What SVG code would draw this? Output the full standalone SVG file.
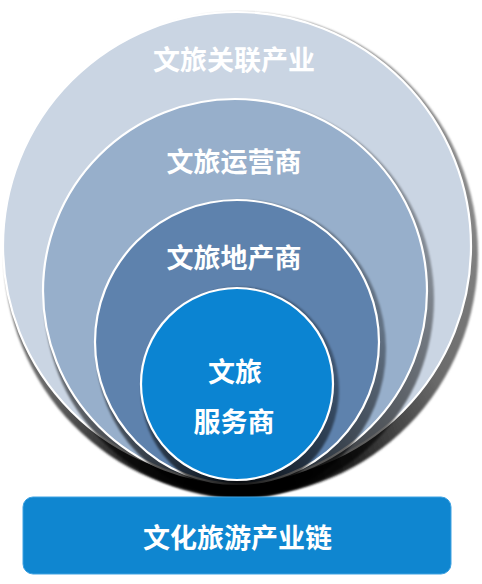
<svg xmlns="http://www.w3.org/2000/svg" width="482" height="584" viewBox="0 0 482 584">
<defs>
<style>
.lbl{font-family:"Noto Sans CJK SC","Noto Sans",sans-serif;font-weight:bold;font-size:27px;fill:#fff;text-anchor:middle;dominant-baseline:central}
.ring{stroke:#fff;stroke-width:2.2}
</style>
<radialGradient id="sh" cx="0.5" cy="1" r="0.75">
<stop offset="0" stop-color="#000" stop-opacity="0.95"/>
<stop offset="0.35" stop-color="#000" stop-opacity="0.7"/>
<stop offset="1" stop-color="#000" stop-opacity="0.35"/>
</radialGradient>
<radialGradient id="sh0" cx="0.5" cy="1" r="0.8">
<stop offset="0" stop-color="#000"/>
<stop offset="0.3" stop-color="#222"/>
<stop offset="0.6" stop-color="#6a6a6a"/>
<stop offset="1" stop-color="#8a8a8a"/>
</radialGradient>
<filter id="bl" x="-10%" y="-10%" width="120%" height="120%"><feGaussianBlur stdDeviation="1.2"/></filter>
</defs>
<g id="outer">
<ellipse cx="241" cy="254" rx="237" ry="242" fill="url(#sh0)" filter="url(#bl)"/>
<circle class="ring" cx="237" cy="246" r="234" fill="#CAD5E3"/>
<text class="lbl" x="234" y="58.5">文旅关联产业</text>
</g>
<g id="operator">
<ellipse cx="239" cy="299" rx="195" ry="199" fill="url(#sh)" filter="url(#bl)"/>
<circle class="ring" cx="235" cy="291" r="192" fill="#97AFCB"/>
<text class="lbl" x="234" y="160">文旅运营商</text>
</g>
<g id="realestate">
<ellipse cx="241" cy="349" rx="145" ry="149" fill="url(#sh)" filter="url(#bl)"/>
<circle class="ring" cx="237" cy="342" r="142" fill="#5E82AD"/>
<text class="lbl" x="234" y="256.5">文旅地产商</text>
</g>
<g id="service">
<ellipse cx="240" cy="390" rx="99" ry="103" fill="url(#sh)" filter="url(#bl)"/>
<circle class="ring" cx="237" cy="384" r="96" fill="#0B84D2"/>
<text class="lbl" x="235" y="370">文旅</text>
<text class="lbl" x="234" y="420">服务商</text>
</g>
<g id="connectors"></g>
<g id="chain">
<rect x="23" y="497" width="428" height="77" rx="10" fill="#0F86D0" stroke="#3EA2E2" stroke-width="1"/>
<text class="lbl" x="237.5" y="536.5">文化旅游产业链</text>
</g>
</svg>
